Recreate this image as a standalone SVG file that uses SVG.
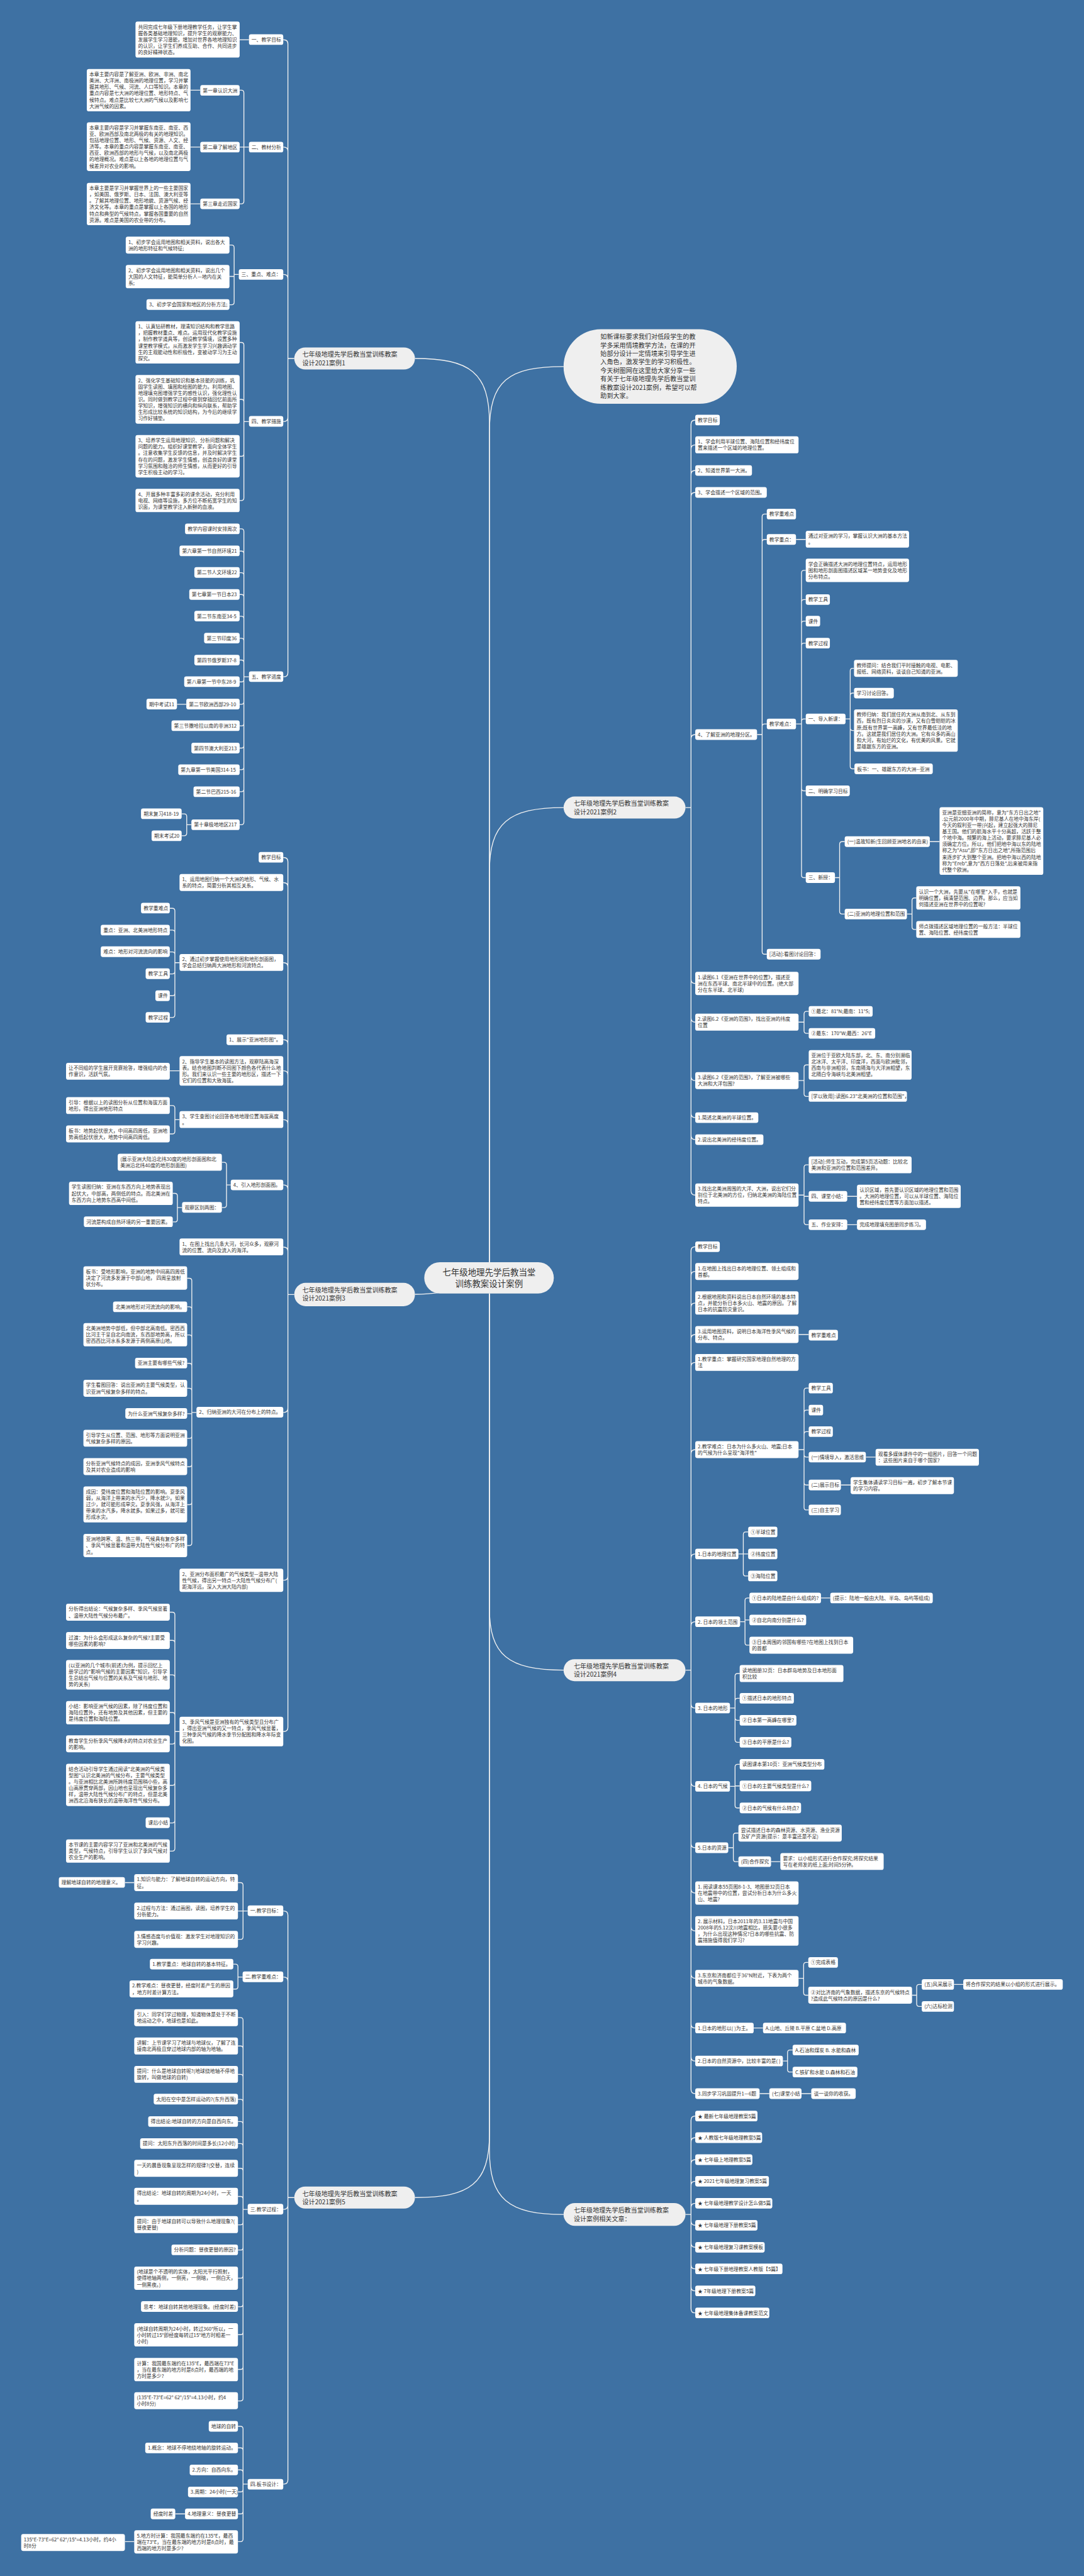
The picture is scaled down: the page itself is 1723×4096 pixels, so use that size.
<svg xmlns="http://www.w3.org/2000/svg" width="1723" height="4096" viewBox="0 0 1723 4096">
<style>
.bg{fill:#3e71a3}
.b{fill:#fff}
.g{fill:#efefef}
.t{font-family:"Noto Sans CJK SC","Noto Sans",sans-serif;font-size:11.7px;fill:#333}
.t2{font-family:"Noto Sans CJK SC","Noto Sans",sans-serif;font-size:15px;fill:#333}
.t3{font-family:"Noto Sans CJK SC","Noto Sans",sans-serif;font-size:20px;fill:#333;text-anchor:middle}
.c{fill:none;stroke:#f2f2f2;stroke-width:2}
</style>
<rect class="bg" x="0" y="0" width="1723" height="4096"/>
<g transform="scale(0.673)">
<g id="connectors">
<path class="c" d="M1156,2982V1000C1156,880 1110,847 980,847"/>
<path class="c" d="M1045,3053C1010,3058 1000,3058 980,3058"/>
<path class="c" d="M1156,3056V5040C1156,5160 1110,5192 980,5192"/>
<path class="c" d="M1156,2982V1020C1156,900 1200,866 1331,866"/>
<path class="c" d="M1156,2982V2060C1156,1945 1200,1908 1331,1908"/>
<path class="c" d="M1156,3056V3800C1156,3910 1200,3946 1331,3946"/>
<path class="c" d="M1156,3056V5080C1156,5195 1200,5232 1331,5232"/>
<path class="c" d="M695,847H680 M680,847V104Q680,94 670,94H669 M680,847V357.5Q680,347.5 670,347.5H669 M680,847V658.5Q680,648.5 670,648.5H669 M680,847V986Q680,996 670,996H669 M680,847V1589Q680,1599 670,1599H669"/>
<path class="c" d="M588,94H566"/>
<path class="c" d="M588,347.5H576 M576,347.5V219Q576,213 570,213H566 M576,347.5H566 M576,347.5V475.5Q576,481.5 570,481.5H566 M473,213H450 M473,347.5H450 M473,481.5H450"/>
<path class="c" d="M564,648.5H553 M553,648.5V585Q553,579 547,579H542 M553,648.5V653H542 M553,648.5V714Q553,720 547,720H542"/>
<path class="c" d="M588,996H576 M576,996V815Q576,809 570,809H566 M576,996V949.5Q576,943.5 570,943.5H566 M576,996V1072Q576,1078 570,1078H566 M576,996V1176.5Q576,1182.5 570,1182.5H566"/>
<path class="c" d="M588,1599H576 M576,1599V1255.5Q576,1249.5 570,1249.5H566 M576,1599V1308Q576,1302 570,1302H566 M576,1599V1359Q576,1353 570,1353H566 M576,1599V1410.5Q576,1404.5 570,1404.5H566 M576,1599V1462Q576,1456 570,1456H566 M576,1599V1514Q576,1508 570,1508H566 M576,1599V1565.5Q576,1559.5 570,1559.5H566 M576,1599V1605Q576,1611 570,1611H566 M576,1599V1658Q576,1664 570,1664H566 M576,1599V1709Q576,1715 570,1715H566 M576,1599V1761.5Q576,1767.5 570,1767.5H566 M576,1599V1812.5Q576,1818.5 570,1818.5H566 M576,1599V1864.5Q576,1870.5 570,1870.5H566 M576,1599V1942.5Q576,1948.5 570,1948.5H566 M440,1664H418 M452,1948.5H441 M441,1948.5V1929Q441,1923 435,1923H429 M441,1948.5V1968.5Q441,1974.5 435,1974.5H429"/>
<path class="c" d="M695,3058.5H680 M680,3058.5V2036Q680,2026 670,2026H669 M680,3058.5V2095.5Q680,2085.5 670,2085.5H669 M680,3058.5V2284.5Q680,2274.5 670,2274.5H669 M680,3058.5V2466.5Q680,2456.5 670,2456.5H669 M680,3058.5V2540Q680,2530 670,2530H669 M680,3058.5V2655.5Q680,2645.5 670,2645.5H669 M680,3058.5V2809.5Q680,2799.5 670,2799.5H669 M680,3058.5V2956.5Q680,2946.5 670,2946.5H669 M680,3058.5V3327Q680,3337 670,3337H669 M680,3058.5V3723.5Q680,3733.5 670,3733.5H669 M680,3058.5V4081Q680,4091 670,4091H669"/>
<path class="c" d="M424,2274.5H413 M413,2274.5V2152Q413,2146 407,2146H401 M413,2274.5V2203.5Q413,2197.5 407,2197.5H401 M413,2274.5V2255Q413,2249 407,2249H401 M413,2274.5V2295Q413,2301 407,2301H401 M413,2274.5V2346.5Q413,2352.5 407,2352.5H401 M413,2274.5V2398Q413,2404 407,2404H401"/>
<path class="c" d="M424,2530H401 M424,2645.5H413 M413,2645.5V2618Q413,2612 407,2612H401 M413,2645.5V2673Q413,2679 407,2679H401"/>
<path class="c" d="M545,2799.5H535 M535,2799.5V2752Q535,2746 529,2746H524 M535,2799.5V2847Q535,2853 529,2853H524 M430,2853H419 M419,2853V2825.5Q419,2819.5 413,2819.5H408 M419,2853V2881Q419,2887 413,2887H408"/>
<path class="c" d="M464,3337H453 M453,3337V3026Q453,3020 447,3020H442 M453,3337V3093.5Q453,3087.5 447,3087.5H442 M453,3337V3160Q453,3154 447,3154H442 M453,3337V3227Q453,3221 447,3221H442 M453,3337V3286Q453,3280 447,3280H442 M453,3337V3340H442 M453,3337V3392.5Q453,3398.5 447,3398.5H442 M453,3337V3459.5Q453,3465.5 447,3465.5H442 M453,3337V3549Q453,3555 447,3555H442 M453,3337V3645.5Q453,3651.5 447,3651.5H442"/>
<path class="c" d="M424,4091H413 M413,4091V3815Q413,3809 407,3809H401 M413,4091V3881.5Q413,3875.5 407,3875.5H401 M413,4091V3963Q413,3957 407,3957H401 M413,4091V4052Q413,4046 407,4046H401 M413,4091V4114.5Q413,4120.5 407,4120.5H401 M413,4091V4212Q413,4218 407,4218H401 M413,4091V4301Q413,4307 407,4307H401 M413,4091V4367.5Q413,4373.5 407,4373.5H401"/>
<path class="c" d="M695,5192H680 M680,5192V4525Q680,4515 670,4515H669 M680,5192V4681Q680,4671 670,4671H669 M680,5192V5210Q680,5220 670,5220H669 M680,5192V5859Q680,5869 670,5869H669"/>
<path class="c" d="M585,4515H562 M574,4515V4454Q574,4448 568,4448H562 M574,4515V4576Q574,4582 568,4582H562 M317,4448H295"/>
<path class="c" d="M573,4671H562 M562,4671V4646.5Q562,4640.5 556,4640.5H551 M562,4671V4693.5Q562,4699.5 556,4699.5H551"/>
<path class="c" d="M585,5220H574 M574,5220V4773Q574,4767 568,4767H562 M574,5220V4840Q574,4834 568,4834H562 M574,5220V4907Q574,4901 568,4901H562 M574,5220V4966Q574,4960 568,4960H562 M574,5220V5018.5Q574,5012.5 568,5012.5H562 M574,5220V5070.5Q574,5064.5 568,5064.5H562 M574,5220V5129Q574,5123 568,5123H562 M574,5220V5195.5Q574,5189.5 568,5189.5H562 M574,5220V5250.5Q574,5256.5 568,5256.5H562 M574,5220V5310Q574,5316 568,5316H562 M574,5220V5376.5Q574,5382.5 568,5382.5H562 M574,5220V5444Q574,5450 568,5450H562 M574,5220V5510Q574,5516 568,5516H562 M574,5220V5592Q574,5598 568,5598H562 M574,5220V5666.5Q574,5672.5 568,5672.5H562"/>
<path class="c" d="M585,5869H574 M574,5869V5738.5Q574,5732.5 568,5732.5H562 M574,5869V5789.5Q574,5783.5 568,5783.5H562 M574,5869V5841.5Q574,5835.5 568,5835.5H562 M574,5869V5881.5Q574,5887.5 568,5887.5H562 M574,5869V5933.5Q574,5939.5 568,5939.5H562 M574,5869V5999Q574,6005 568,6005H562 M437,5939.5H414 M317,6005H295"/>
<path class="c" d="M1619,1908H1632 M1632,1908V1002.5Q1632,992.5 1642,992.5 M1632,1908V1061Q1632,1051 1642,1051 M1632,1908V1121.5Q1632,1111.5 1642,1111.5 M1632,1908V1173.5Q1632,1163.5 1642,1163.5 M1632,1908V1745.5Q1632,1735.5 1642,1735.5 M1632,1908V2313.5Q1632,2323.5 1642,2323.5 M1632,1908V2405Q1632,2415 1642,2415 M1632,1908V2543Q1632,2553 1642,2553 M1632,1908V2630.5Q1632,2640.5 1642,2640.5 M1632,1908V2682.5Q1632,2692.5 1642,2692.5 M1632,1908V2813.5Q1632,2823.5 1642,2823.5"/>
<path class="c" d="M1788,1735.5H1800 M1800,1735.5V1220.5Q1800,1214.5 1806,1214.5H1811 M1800,1735.5V1280.5Q1800,1274.5 1806,1274.5H1811 M1800,1735.5V1716.5Q1800,1710.5 1806,1710.5H1811 M1800,1735.5V2248.5Q1800,2254.5 1806,2254.5H1811 M1880,1274.5H1903"/>
<path class="c" d="M1880,1710.5H1893 M1893,1710.5V1353.5Q1893,1347.5 1899,1347.5H1903 M1893,1710.5V1422.5Q1893,1416.5 1899,1416.5H1903 M1893,1710.5V1473.5Q1893,1467.5 1899,1467.5H1903 M1893,1710.5V1525.5Q1893,1519.5 1899,1519.5H1903 M1893,1710.5V1704.5Q1893,1698.5 1899,1698.5H1903 M1893,1710.5V1862.5Q1893,1868.5 1899,1868.5H1903 M1893,1710.5V2067.5Q1893,2073.5 1899,2073.5H1903"/>
<path class="c" d="M1997,1698.5H2008 M2008,1698.5V1585Q2008,1579 2014,1579H2017 M2008,1698.5V1643.5Q2008,1637.5 2014,1637.5H2017 M2008,1698.5V1720Q2008,1726 2014,1726H2017 M2008,1698.5V1810.5Q2008,1816.5 2014,1816.5H2018"/>
<path class="c" d="M1972,2073.5H1983 M1983,2073.5V1994.5Q1983,1988.5 1989,1988.5H1995 M1983,2073.5V2153.5Q1983,2159.5 1989,2159.5H1995 M2196,1988.5H2219 M2142,2159.5H2154 M2154,2159.5V2127.5Q2154,2121.5 2160,2121.5H2164 M2154,2159.5V2190Q2154,2196 2160,2196H2164"/>
<path class="c" d="M1886,2415H1899 M1899,2415V2395.5Q1899,2389.5 1905,2389.5H1910 M1899,2415V2435.5Q1899,2441.5 1905,2441.5H1910 M1886,2553H1899 M1899,2553V2522Q1899,2516 1905,2516H1910 M1899,2553V2584.5Q1899,2590.5 1905,2590.5H1910"/>
<path class="c" d="M1886,2823.5H1899 M1899,2823.5V2758Q1899,2752 1905,2752H1910 M1899,2823.5V2826.5H1910 M1899,2823.5V2887.5Q1899,2893.5 1905,2893.5H1910 M2001,2826.5H2024 M2001,2893.5H2024"/>
<path class="c" d="M1619,3946H1632 M1632,3946V2955.5Q1632,2945.5 1642,2945.5 M1632,3946V3014Q1632,3004 1642,3004 M1632,3946V3088.5Q1632,3078.5 1642,3078.5 M1632,3946V3163Q1632,3153 1642,3153 M1632,3946V3229Q1632,3219 1642,3219 M1632,3946V3435Q1632,3425 1642,3425 M1632,3946V3681.5Q1632,3671.5 1642,3671.5 M1632,3946V3841.5Q1632,3831.5 1642,3831.5 M1632,3946V4025.5Q1632,4035.5 1642,4035.5 M1632,3946V4210.5Q1632,4220.5 1642,4220.5 M1632,3946V4355.5Q1632,4365.5 1642,4365.5 M1632,3946V4462.5Q1632,4472.5 1642,4472.5 M1632,3946V4552Q1632,4562 1642,4562 M1632,3946V4664Q1632,4674 1642,4674 M1632,3946V4781.5Q1632,4791.5 1642,4791.5 M1632,3946V4859.5Q1632,4869.5 1642,4869.5 M1632,3946V4936.5Q1632,4946.5 1642,4946.5"/>
<path class="c" d="M1886,3153H1910 M1886,3425H1899 M1899,3425V3285.5Q1899,3279.5 1905,3279.5H1910 M1899,3425V3337.5Q1899,3331.5 1905,3331.5H1910 M1899,3425V3388.5Q1899,3382.5 1905,3382.5H1910 M1899,3425V3436.5Q1899,3442.5 1905,3442.5H1910 M1899,3425V3502.5Q1899,3508.5 1905,3508.5H1910 M1899,3425V3561.5Q1899,3567.5 1905,3567.5H1910 M2045,3442.5H2068 M1986,3508.5H2009"/>
<path class="c" d="M1744,3671.5H1767 M1755.5,3671.5V3625.5Q1755.5,3619.5 1761.5,3619.5H1767 M1755.5,3671.5V3717.5Q1755.5,3723.5 1761.5,3723.5H1767 M1748,3831.5H1759.5 M1759.5,3831.5V3781.5Q1759.5,3775.5 1765.5,3775.5H1770 M1759.5,3831.5V3827.5H1770 M1759.5,3831.5V3881Q1759.5,3887 1765.5,3887H1770 M1939,3775.5H1961"/>
<path class="c" d="M1724,4035.5H1736 M1736,4035.5V3960Q1736,3954 1742,3954H1747 M1736,4035.5V4018.5Q1736,4012.5 1742,4012.5H1747 M1736,4035.5V4058.5Q1736,4064.5 1742,4064.5H1747 M1736,4035.5V4110.5Q1736,4116.5 1742,4116.5H1747 M1724,4220.5H1736 M1736,4220.5V4174.5Q1736,4168.5 1742,4168.5H1747 M1736,4220.5V4219.5H1747 M1736,4220.5V4265.5Q1736,4271.5 1742,4271.5H1747"/>
<path class="c" d="M1720,4365.5H1732 M1732,4365.5V4337Q1732,4331 1738,4331H1744 M1732,4365.5V4392.5Q1732,4398.5 1738,4398.5H1744 M1821,4398.5H1843"/>
<path class="c" d="M1886,4674H1898 M1898,4674V4642.5Q1898,4636.5 1904,4636.5H1909 M1898,4674V4708Q1898,4714 1904,4714H1909 M2154,4714H2165 M2165,4714V4694.5Q2165,4688.5 2171,4688.5H2177 M2165,4714V4734.5Q2165,4740.5 2171,4740.5H2177 M2253,4688.5H2275"/>
<path class="c" d="M1780,4791.5H1802 M1849,4869.5H1860 M1860,4869.5V4849.5Q1860,4843.5 1866,4843.5H1872 M1860,4869.5V4889.5Q1860,4895.5 1866,4895.5H1872 M1794,4946.5H1817 M1893,4946.5H1916"/>
<path class="c" d="M1619,5232H1632 M1632,5232V5009.5Q1632,4999.5 1642,4999.5 M1632,5232V5060.5Q1632,5050.5 1642,5050.5 M1632,5232V5112.5Q1632,5102.5 1642,5102.5 M1632,5232V5163.5Q1632,5153.5 1642,5153.5 M1632,5232V5215.5Q1632,5205.5 1642,5205.5 M1632,5232V5247.5Q1632,5257.5 1642,5257.5 M1632,5232V5299.5Q1632,5309.5 1642,5309.5 M1632,5232V5350.5Q1632,5360.5 1642,5360.5 M1632,5232V5402.5Q1632,5412.5 1642,5412.5 M1632,5232V5454.5Q1632,5464.5 1642,5464.5"/>
</g>

<g id="center"><rect class="g" x="1002" y="2982" width="306" height="74" rx="37"/><text class="t3" x="1155" y="3013">七年级地理先学后教当堂<tspan x="1155" dy="27">训练教案设计案例</tspan></text></g>

<g id="intro"><rect class="g" x="1331" y="778" width="409" height="176" rx="88"/><text class="t2" x="1418" y="801">如新课标要求我们对低段学生的教<tspan x="1418" dy="20">学多采用情境教学方法，在课的开</tspan><tspan x="1418" dy="20">始部分设计一定情境来引导学生进</tspan><tspan x="1418" dy="20">入角色，激发学生的学习积极性。</tspan><tspan x="1418" dy="20">今天树图网在这里给大家分享一些</tspan><tspan x="1418" dy="20">有关于七年级地理先学后教当堂训</tspan><tspan x="1418" dy="20">练教案设计2021案例，希望可以帮</tspan><tspan x="1418" dy="20">助到大家。</tspan></text></g>

<g id="case1"><rect class="g" x="695" y="821" width="285" height="52" rx="26"/><text class="t2" x="714" y="843">七年级地理先学后教当堂训练教案<tspan x="714" dy="20">设计2021案例1</tspan></text></g>
<g id="case3"><rect class="g" x="695" y="3031" width="285" height="55" rx="27"/><text class="t2" x="714" y="3053">七年级地理先学后教当堂训练教案<tspan x="714" dy="20">设计2021案例3</tspan></text></g>
<g id="case5"><rect class="g" x="695" y="5166" width="285" height="52" rx="26"/><text class="t2" x="714" y="5188">七年级地理先学后教当堂训练教案<tspan x="714" dy="20">设计2021案例5</tspan></text></g>
<g id="case2"><rect class="g" x="1331" y="1882" width="288" height="52" rx="26"/><text class="t2" x="1355" y="1904">七年级地理先学后教当堂训练教案<tspan x="1355" dy="20">设计2021案例2</tspan></text></g>
<g id="case4"><rect class="g" x="1331" y="3920" width="288" height="52" rx="26"/><text class="t2" x="1355" y="3942">七年级地理先学后教当堂训练教案<tspan x="1355" dy="20">设计2021案例4</tspan></text></g>
<g id="related"><rect class="g" x="1331" y="5205" width="288" height="54" rx="27"/><text class="t2" x="1355" y="5228">七年级地理先学后教当堂训练教案<tspan x="1355" dy="20">设计案例相关文章：</tspan></text></g>

<g id="a1"><rect class="b" x="588" y="81" width="81" height="25" rx="5"/><text class="t" x="594" y="98">一、教学目标</text></g>
<g id="a1c"><rect class="b" x="320" y="51" width="246" height="85" rx="5"/><text class="t" x="326" y="68">共同完成七年级下册地理教学任务，让学生掌<tspan x="326" dy="15">握各类基础地理知识，提升学生的观察能力、</tspan><tspan x="326" dy="15">发展学生学习潜能，增加对世界各地地理知识</tspan><tspan x="326" dy="15">的认识，让学生们养成互助、合作、共同进步</tspan><tspan x="326" dy="15">的良好精神状态。</tspan></text></g>
<g id="a2"><rect class="b" x="588" y="335" width="81" height="25" rx="5"/><text class="t" x="594" y="352">二、教材分析</text></g>
<g id="a2a"><rect class="b" x="473" y="201" width="93" height="25" rx="5"/><text class="t" x="479" y="218">第一章认识大洲</text></g>
<g id="a2ac"><rect class="b" x="205" y="163" width="245" height="100" rx="5"/><text class="t" x="211" y="180">本章主要内容是了解亚洲、欧洲、非洲、南北<tspan x="211" dy="15">美洲、大洋洲、南极洲的地理位置，学习并掌</tspan><tspan x="211" dy="15">握其地形、气候、河流、人口等知识。本章的</tspan><tspan x="211" dy="15">重点内容是七大洲的地理位置、地形特点、气</tspan><tspan x="211" dy="15">候特点。难点是比较七大洲的气候以及影响七</tspan><tspan x="211" dy="15">大洲气候的因素。</tspan></text></g>
<g id="a2b"><rect class="b" x="473" y="335" width="93" height="25" rx="5"/><text class="t" x="479" y="352">第二章了解地区</text></g>
<g id="a2bc"><rect class="b" x="205" y="289" width="245" height="115" rx="5"/><text class="t" x="211" y="306">本章主要内容是学习并掌握东南亚、南亚、西<tspan x="211" dy="15">亚、欧洲西部及南北两极的有关的地理知识。</tspan><tspan x="211" dy="15">包括地理位置、地形、气候、资源、人文、经</tspan><tspan x="211" dy="15">济等。本章的重点内容是掌握东南亚、南亚、</tspan><tspan x="211" dy="15">西亚、欧洲西部的地形与气候，以及南北两极</tspan><tspan x="211" dy="15">的地理概况。难点是以上各地的地理位置与气</tspan><tspan x="211" dy="15">候差异对农业的影响。</tspan></text></g>
<g id="a2c"><rect class="b" x="473" y="469" width="93" height="25" rx="5"/><text class="t" x="479" y="486">第三章走近国家</text></g>
<g id="a2cc"><rect class="b" x="205" y="432" width="245" height="100" rx="5"/><text class="t" x="211" y="449">本章主要是学习并掌握世界上的一些主要国家<tspan x="211" dy="15">，如美国、俄罗斯、日本、法国、澳大利亚等</tspan><tspan x="211" dy="15">。了解其地理位置、地形地貌、资源气候、经</tspan><tspan x="211" dy="15">济文化等。本章的重点是掌握以上各国的地形</tspan><tspan x="211" dy="15">特点和典型的气候特点，掌握各国重要的自然</tspan><tspan x="211" dy="15">资源。难点是美国的农业带的分布。</tspan></text></g>
<g id="a3"><rect class="b" x="564" y="636" width="105" height="25" rx="5"/><text class="t" x="570" y="653">三、重点、难点：</text></g>
<g id="a3a"><rect class="b" x="297" y="559" width="245" height="40" rx="5"/><text class="t" x="303" y="576">1、初步学会运用地图和相关资料，说出各大<tspan x="303" dy="15">洲的地形特征和气候特征;</tspan></text></g>
<g id="a3b"><rect class="b" x="297" y="626" width="245" height="55" rx="5"/><text class="t" x="303" y="643">2、初步学会运用地图和相关资料，说出几个<tspan x="303" dy="15">大国的人文特征，能简单分析人—地内在关</tspan><tspan x="303" dy="15">系;</tspan></text></g>
<g id="a3c"><rect class="b" x="346" y="707" width="196" height="25" rx="5"/><text class="t" x="352" y="724">3、初步学会国家和地区的分析方法;</text></g>
<g id="a4"><rect class="b" x="588" y="983" width="81" height="25" rx="5"/><text class="t" x="594" y="1000">四、教学措施</text></g>
<g id="a4a"><rect class="b" x="320" y="759" width="246" height="100" rx="5"/><text class="t" x="326" y="776">1、认真钻研教材，理清知识结构和教学思路<tspan x="326" dy="15">，把握教材重点、难点。运用现代化教学设施</tspan><tspan x="326" dy="15">，制作教学道具等，创设教学情境，设置多种</tspan><tspan x="326" dy="15">课堂教学模式，从而激发学生学习兴趣调动学</tspan><tspan x="326" dy="15">生的主观能动性和积极性，变被动学习为主动</tspan><tspan x="326" dy="15">探究。</tspan></text></g>
<g id="a4b"><rect class="b" x="320" y="886" width="246" height="115" rx="5"/><text class="t" x="326" y="903">2、强化学生基础知识和基本技能的训练，巩<tspan x="326" dy="15">固学生读图、填图和绘图的能力。利用地图、</tspan><tspan x="326" dy="15">地理填充图增强学生的感性认识，强化理性认</tspan><tspan x="326" dy="15">识。同时做到教学过程中做到穿插回忆前面所</tspan><tspan x="326" dy="15">学知识，增强知识的横向和纵向联系，帮助学</tspan><tspan x="326" dy="15">生形成比较系统的知识结构，为今后的继续学</tspan><tspan x="326" dy="15">习作好铺垫。</tspan></text></g>
<g id="a4c"><rect class="b" x="320" y="1028" width="246" height="100" rx="5"/><text class="t" x="326" y="1045">3、培养学生运用地理知识、分析问题和解决<tspan x="326" dy="15">问题的能力。组织好课堂教学，面向全体学生</tspan><tspan x="326" dy="15">。注意收集学生反馈的信息，并及时解决学生</tspan><tspan x="326" dy="15">存在的问题，激发学生情感，创造良好的课堂</tspan><tspan x="326" dy="15">学习氛围和融洽的师生情感，从而更好的引导</tspan><tspan x="326" dy="15">学生积极主动的学习。</tspan></text></g>
<g id="a4d"><rect class="b" x="320" y="1155" width="246" height="55" rx="5"/><text class="t" x="326" y="1172">4、开展多种丰富多彩的课余活动，充分利用<tspan x="326" dy="15">电视、网络等设施，多方位不断拓宽学生的知</tspan><tspan x="326" dy="15">识面，为课堂教学注入新鲜的血液。</tspan></text></g>
<g id="a5"><rect class="b" x="588" y="1586" width="81" height="25" rx="5"/><text class="t" x="594" y="1603">五、教学进度</text></g>
<g id="a5a"><rect class="b" x="437" y="1237" width="129" height="25" rx="5"/><text class="t" x="443" y="1254">教学内容课时安排周次</text></g>
<g id="a5b"><rect class="b" x="424" y="1289" width="142" height="25" rx="5"/><text class="t" x="430" y="1306">第六章第一节自然环境21</text></g>
<g id="a5c"><rect class="b" x="459" y="1340" width="107" height="25" rx="5"/><text class="t" x="465" y="1357">第二节人文环境22</text></g>
<g id="a5d"><rect class="b" x="447" y="1392" width="119" height="25" rx="5"/><text class="t" x="453" y="1409">第七章第一节日本23</text></g>
<g id="a5e"><rect class="b" x="459" y="1443" width="107" height="25" rx="5"/><text class="t" x="465" y="1460">第二节东南亚34-5</text></g>
<g id="a5f"><rect class="b" x="482" y="1495" width="84" height="25" rx="5"/><text class="t" x="488" y="1512">第三节印度36</text></g>
<g id="a5g"><rect class="b" x="459" y="1547" width="107" height="25" rx="5"/><text class="t" x="465" y="1564">第四节俄罗斯37-8</text></g>
<g id="a5h"><rect class="b" x="435" y="1598" width="131" height="25" rx="5"/><text class="t" x="441" y="1615">第八章第一节中东28-9</text></g>
<g id="a5i"><rect class="b" x="440" y="1651" width="126" height="25" rx="5"/><text class="t" x="446" y="1668">第二节欧洲西部29-10</text></g>
<g id="a5i1"><rect class="b" x="346" y="1651" width="72" height="25" rx="5"/><text class="t" x="352" y="1668">期中考试11</text></g>
<g id="a5j"><rect class="b" x="405" y="1702" width="161" height="25" rx="5"/><text class="t" x="411" y="1719">第三节撒哈拉以南的非洲312</text></g>
<g id="a5k"><rect class="b" x="452" y="1755" width="114" height="25" rx="5"/><text class="t" x="458" y="1772">第四节澳大利亚213</text></g>
<g id="a5l"><rect class="b" x="421" y="1806" width="145" height="25" rx="5"/><text class="t" x="427" y="1823">第九章第一节美国314-15</text></g>
<g id="a5m"><rect class="b" x="457" y="1858" width="109" height="25" rx="5"/><text class="t" x="463" y="1875">第二节巴西215-16</text></g>
<g id="a5n"><rect class="b" x="452" y="1936" width="114" height="25" rx="5"/><text class="t" x="458" y="1953">第十章极地地区217</text></g>
<g id="a5n1"><rect class="b" x="333" y="1910" width="96" height="25" rx="5"/><text class="t" x="339" y="1927">期末复习418-19</text></g>
<g id="a5n2"><rect class="b" x="358" y="1962" width="71" height="25" rx="5"/><text class="t" x="364" y="1979">期末考试20</text></g>

<g id="b1"><rect class="b" x="611" y="2013" width="58" height="25" rx="5"/><text class="t" x="617" y="2030">教学目标</text></g>
<g id="b2"><rect class="b" x="424" y="2065" width="245" height="40" rx="5"/><text class="t" x="430" y="2082">1、运用地图归纳一个大洲的地形、气候、水<tspan x="430" dy="15">系的特点，简要分析其相互关系。</tspan></text></g>
<g id="b3"><rect class="b" x="424" y="2254" width="245" height="40" rx="5"/><text class="t" x="430" y="2271">2、通过初步掌握使用地形图和地形剖面图，<tspan x="430" dy="15">学会总结归纳两大洲地形和河流特点。</tspan></text></g>
<g id="b3a"><rect class="b" x="333" y="2133" width="68" height="25" rx="5"/><text class="t" x="339" y="2150">教学重难点</text></g>
<g id="b3b"><rect class="b" x="238" y="2185" width="163" height="25" rx="5"/><text class="t" x="244" y="2202">重点：亚洲、北美洲地形特点</text></g>
<g id="b3c"><rect class="b" x="238" y="2236" width="163" height="25" rx="5"/><text class="t" x="244" y="2253">难点：地形对河流流向的影响</text></g>
<g id="b3d"><rect class="b" x="344" y="2288" width="57" height="25" rx="5"/><text class="t" x="350" y="2305">教学工具</text></g>
<g id="b3e"><rect class="b" x="367" y="2340" width="34" height="25" rx="5"/><text class="t" x="373" y="2357">课件</text></g>
<g id="b3f"><rect class="b" x="344" y="2391" width="57" height="25" rx="5"/><text class="t" x="350" y="2408">教学过程</text></g>
<g id="b4"><rect class="b" x="535" y="2444" width="134" height="25" rx="5"/><text class="t" x="541" y="2461">1、展示"亚洲地形图"。</text></g>
<g id="b5"><rect class="b" x="424" y="2495" width="245" height="70" rx="5"/><text class="t" x="430" y="2512">2、指导学生基本的读图方法，观察陆高海深<tspan x="430" dy="15">表。结合地图判断不同图下颜色各代表什么地</tspan><tspan x="430" dy="15">形。我们来认识一些主要的地形区，描述一下</tspan><tspan x="430" dy="15">它们的位置和大致海拔。</tspan></text></g>
<g id="b5a"><rect class="b" x="156" y="2511" width="245" height="40" rx="5"/><text class="t" x="162" y="2528">让不同组的学生展开竞赛抢答，增强组内的合<tspan x="162" dy="15">作意识，活跃气氛。</tspan></text></g>
<g id="b6"><rect class="b" x="424" y="2625" width="245" height="40" rx="5"/><text class="t" x="430" y="2642">3、学生查图讨论回答各地地理位置海拔高度<tspan x="430" dy="15">。</tspan></text></g>
<g id="b6a"><rect class="b" x="156" y="2592" width="245" height="40" rx="5"/><text class="t" x="162" y="2609">引导：根据以上的读图分析从位置和海拔方面<tspan x="162" dy="15">地形，得出亚洲地形特点</tspan></text></g>
<g id="b6b"><rect class="b" x="156" y="2659" width="245" height="40" rx="5"/><text class="t" x="162" y="2676">板书：地势起伏很大，中间高四周低，亚洲地<tspan x="162" dy="15">势高低起伏很大，地势中间高四周低。</tspan></text></g>
<g id="b7"><rect class="b" x="545" y="2787" width="124" height="25" rx="5"/><text class="t" x="551" y="2804">4、引入地形剖面图。</text></g>
<g id="b7a"><rect class="b" x="278" y="2726" width="246" height="40" rx="5"/><text class="t" x="284" y="2743">(展示亚洲大陆沿北纬30度的地形剖面图和北<tspan x="284" dy="15">美洲沿北纬40度的地形剖面图)</tspan></text></g>
<g id="b7b"><rect class="b" x="430" y="2840" width="94" height="25" rx="5"/><text class="t" x="436" y="2857">观察区别两图：</text></g>
<g id="b7b1"><rect class="b" x="163" y="2792" width="245" height="55" rx="5"/><text class="t" x="169" y="2809">学生读图归纳：亚洲在东西方向上地势表现出<tspan x="169" dy="15">起伏大，中部高，两侧低的特点。而北美洲在</tspan><tspan x="169" dy="15">东西方向上地势东西高中间低。</tspan></text></g>
<g id="b7b2"><rect class="b" x="198" y="2874" width="210" height="25" rx="5"/><text class="t" x="204" y="2891">河流是构成自热环境的另一重要因素。</text></g>
<g id="b8"><rect class="b" x="424" y="2926" width="245" height="40" rx="5"/><text class="t" x="430" y="2943">1、在图上找出几条大河，长河众多，观察河<tspan x="430" dy="15">流的位置、流向及流入的海洋。</tspan></text></g>
<g id="b9"><rect class="b" x="464" y="3324" width="205" height="25" rx="5"/><text class="t" x="470" y="3341">2、归纳亚洲的大河在分布上的特点。</text></g>
<g id="b9a"><rect class="b" x="197" y="2992" width="245" height="55" rx="5"/><text class="t" x="203" y="3009">板书：受地形影响，亚洲的地势中间高四周低<tspan x="203" dy="15">决定了河流多发源于中部山地， 四周呈放射</tspan><tspan x="203" dy="15">状分布。</tspan></text></g>
<g id="b9b"><rect class="b" x="267" y="3075" width="175" height="25" rx="5"/><text class="t" x="273" y="3092">北美洲地形对河流流向的影响。</text></g>
<g id="b9c"><rect class="b" x="197" y="3126" width="245" height="55" rx="5"/><text class="t" x="203" y="3143">北美洲地势中部低，但中部北高南低。密西西<tspan x="203" dy="15">比河主干呈自北向南流，东西部地势高，所以</tspan><tspan x="203" dy="15">密西西比河水系多发源于两侧高原山地。</tspan></text></g>
<g id="b9d"><rect class="b" x="319" y="3208" width="123" height="25" rx="5"/><text class="t" x="325" y="3225">亚洲主要有哪些气候?</text></g>
<g id="b9e"><rect class="b" x="197" y="3260" width="245" height="40" rx="5"/><text class="t" x="203" y="3277">学生看图回答：说出亚洲的主要气候类型，认<tspan x="203" dy="15">识亚洲气候复杂多样的特点。</tspan></text></g>
<g id="b9f"><rect class="b" x="296" y="3327" width="146" height="25" rx="5"/><text class="t" x="302" y="3344">为什么亚洲气候复杂多样?</text></g>
<g id="b9g"><rect class="b" x="197" y="3378" width="245" height="40" rx="5"/><text class="t" x="203" y="3395">引导学生从位置、范围、地形等方面说明亚洲<tspan x="203" dy="15">气候复杂多样的原因。</tspan></text></g>
<g id="b9h"><rect class="b" x="197" y="3445" width="245" height="40" rx="5"/><text class="t" x="203" y="3462">分析亚洲气候特点的成因，亚洲季风气候特点<tspan x="203" dy="15">及其对农业造成的影响</tspan></text></g>
<g id="b9i"><rect class="b" x="197" y="3512" width="245" height="85" rx="5"/><text class="t" x="203" y="3529">成因：受纬度位置和海陆位置的影响。夏季风<tspan x="203" dy="15">弱，从海洋上带来的水汽少，降水就少。如果</tspan><tspan x="203" dy="15">过少，就可能形成旱灾。夏季风强，从海洋上</tspan><tspan x="203" dy="15">带来的水汽多，降水就多。如果过多，就可能</tspan><tspan x="203" dy="15">形成水灾。</tspan></text></g>
<g id="b9j"><rect class="b" x="197" y="3624" width="245" height="55" rx="5"/><text class="t" x="203" y="3641">亚洲地跨寒、温、热三带，气候具有复杂多样<tspan x="203" dy="15">、季风气候显著和温带大陆性气候分布广的特</tspan><tspan x="203" dy="15">点。</tspan></text></g>
<g id="b10"><rect class="b" x="424" y="3706" width="245" height="55" rx="5"/><text class="t" x="430" y="3723">2、亚洲分布面积最广的气候类型—温带大陆<tspan x="430" dy="15">性气候，得出另一特点—大陆性气候分布广(</tspan><tspan x="430" dy="15">距海洋远，深入大洲大陆内部)</tspan></text></g>
<g id="b11"><rect class="b" x="424" y="4056" width="245" height="70" rx="5"/><text class="t" x="430" y="4073">3、季风气候是亚洲独有的气候类型且分布广<tspan x="430" dy="15">，得出亚洲气候的又一特点，季风气候显著，</tspan><tspan x="430" dy="15">三种季风气候的降水季节分配图和降水年际变</tspan><tspan x="430" dy="15">化图。</tspan></text></g>
<g id="b11a"><rect class="b" x="156" y="3789" width="245" height="40" rx="5"/><text class="t" x="162" y="3806">分析得出结论：气候复杂多样、季风气候显著<tspan x="162" dy="15">、温带大陆性气候分布最广。</tspan></text></g>
<g id="b11b"><rect class="b" x="156" y="3856" width="245" height="40" rx="5"/><text class="t" x="162" y="3873">过渡：为什么会形成这么复杂的气候?主要受<tspan x="162" dy="15">哪些因素的影响?</tspan></text></g>
<g id="b11c"><rect class="b" x="156" y="3922" width="245" height="70" rx="5"/><text class="t" x="162" y="3939">(以亚洲的几个城市(前述)为例，提示回忆上<tspan x="162" dy="15">册学过的"影响气候的主要因素"知识，引导学</tspan><tspan x="162" dy="15">生总结出气候与位置的关系及气候与地形、地</tspan><tspan x="162" dy="15">势的关系)</tspan></text></g>
<g id="b11d"><rect class="b" x="156" y="4019" width="245" height="55" rx="5"/><text class="t" x="162" y="4036">小结：影响亚洲气候的因素，除了纬度位置和<tspan x="162" dy="15">海陆位置外，还有地势及其他因素，但主要的</tspan><tspan x="162" dy="15">是纬度位置和海陆位置。</tspan></text></g>
<g id="b11e"><rect class="b" x="156" y="4100" width="245" height="40" rx="5"/><text class="t" x="162" y="4117">教育学生分析季风气候降水的特点对农业生产<tspan x="162" dy="15">的影响。</tspan></text></g>
<g id="b11f"><rect class="b" x="156" y="4167" width="245" height="100" rx="5"/><text class="t" x="162" y="4184">结合活动引导学生通过阅读"北美洲的气候类<tspan x="162" dy="15">型图"认识北美洲的气候分布，主要气候类型</tspan><tspan x="162" dy="15">。与亚洲相比北美洲所跨纬度范围稍小些，高</tspan><tspan x="162" dy="15">山高原贯穿两部，因山地也呈现出气候复杂多</tspan><tspan x="162" dy="15">样，温带大陆性气候分布广的特点，但是北美</tspan><tspan x="162" dy="15">洲西北沿海有狭长的温带海洋性气候分布。</tspan></text></g>
<g id="b11g"><rect class="b" x="344" y="4294" width="57" height="25" rx="5"/><text class="t" x="350" y="4311">课后小结</text></g>
<g id="b11h"><rect class="b" x="156" y="4346" width="245" height="55" rx="5"/><text class="t" x="162" y="4363">本节课的主要内容学习了亚洲和北美洲的气候<tspan x="162" dy="15">类型，气候特点，引导学生认识了季风气候对</tspan><tspan x="162" dy="15">农业生产的影响。</tspan></text></g>

<g id="c1"><rect class="b" x="585" y="4502" width="84" height="25" rx="5"/><text class="t" x="591" y="4519">一.教学目标：</text></g>
<g id="c1a"><rect class="b" x="317" y="4428" width="245" height="40" rx="5"/><text class="t" x="323" y="4445">1.知识与能力：了解地球自转的运动方向，特<tspan x="323" dy="15">征。</tspan></text></g>
<g id="c1a1"><rect class="b" x="139" y="4435" width="156" height="25" rx="5"/><text class="t" x="145" y="4452">理解地球自转的地理意义。</text></g>
<g id="c1b"><rect class="b" x="317" y="4495" width="245" height="40" rx="5"/><text class="t" x="323" y="4512">2.过程与方法：通过画图，读图，培养学生的<tspan x="323" dy="15">分析能力。</tspan></text></g>
<g id="c1c"><rect class="b" x="317" y="4562" width="245" height="40" rx="5"/><text class="t" x="323" y="4579">3.情感态度与价值观：激发学生对地理知识的<tspan x="323" dy="15">学习兴趣。</tspan></text></g>
<g id="c2"><rect class="b" x="573" y="4658" width="96" height="25" rx="5"/><text class="t" x="579" y="4675">二.教学重难点：</text></g>
<g id="c2a"><rect class="b" x="354" y="4628" width="197" height="25" rx="5"/><text class="t" x="360" y="4645">1.教学重点：地球自转的基本特征。</text></g>
<g id="c2b"><rect class="b" x="306" y="4679" width="245" height="40" rx="5"/><text class="t" x="312" y="4696">2.教学难点：昼夜更替，经度时差产生的原因<tspan x="312" dy="15">，地方时差计算方法。</tspan></text></g>
<g id="c3"><rect class="b" x="585" y="5207" width="84" height="25" rx="5"/><text class="t" x="591" y="5224">三.教学过程：</text></g>
<g id="c3a"><rect class="b" x="317" y="4747" width="245" height="40" rx="5"/><text class="t" x="323" y="4764">引入：同学们学过物理，知道物体是处于不断<tspan x="323" dy="15">地运动之中，地球也是如此。</tspan></text></g>
<g id="c3b"><rect class="b" x="317" y="4814" width="245" height="40" rx="5"/><text class="t" x="323" y="4831">讲解：上节课学习了地球与地球仪，了解了连<tspan x="323" dy="15">接南北两极且穿过地球内部的轴为地轴。</tspan></text></g>
<g id="c3c"><rect class="b" x="317" y="4881" width="245" height="40" rx="5"/><text class="t" x="323" y="4898">提问：什么是地球自转呢?(地球绕地轴不停地<tspan x="323" dy="15">旋转，叫做地球的自转)</tspan></text></g>
<g id="c3d"><rect class="b" x="363" y="4947" width="199" height="25" rx="5"/><text class="t" x="369" y="4964">太阳在空中是怎样运动的?(东升西落)</text></g>
<g id="c3e"><rect class="b" x="350" y="5000" width="212" height="25" rx="5"/><text class="t" x="356" y="5017">得出结论:地球自转的方向是自西向东。</text></g>
<g id="c3f"><rect class="b" x="331" y="5052" width="231" height="25" rx="5"/><text class="t" x="337" y="5069">提问：太阳东升西落的时间是多长(12小时)</text></g>
<g id="c3g"><rect class="b" x="317" y="5103" width="245" height="40" rx="5"/><text class="t" x="323" y="5120">一天的晨昏现象呈现怎样的规律?(交替，连续<tspan x="323" dy="15">)</tspan></text></g>
<g id="c3h"><rect class="b" x="317" y="5169" width="245" height="40" rx="5"/><text class="t" x="323" y="5186">得出结论：地球自转的周期为24小时，一天<tspan x="323" dy="15">。</tspan></text></g>
<g id="c3i"><rect class="b" x="317" y="5236" width="245" height="40" rx="5"/><text class="t" x="323" y="5253">提问：由于地球自转可以导致什么地理现象?(<tspan x="323" dy="15">昼夜更替)</tspan></text></g>
<g id="c3j"><rect class="b" x="405" y="5303" width="157" height="25" rx="5"/><text class="t" x="411" y="5320">分析问题：昼夜更替的原因?</text></g>
<g id="c3k"><rect class="b" x="317" y="5355" width="245" height="55" rx="5"/><text class="t" x="323" y="5372">(地球是个不透明的实体，太阳光平行照射，<tspan x="323" dy="15">使得地轴两侧，一侧亮，一侧暗，一侧白天，</tspan><tspan x="323" dy="15">一侧黑夜。)</tspan></text></g>
<g id="c3l"><rect class="b" x="333" y="5437" width="229" height="25" rx="5"/><text class="t" x="339" y="5454">思考：地球自转其他地理现象。(经度时差)</text></g>
<g id="c3m"><rect class="b" x="317" y="5489" width="245" height="55" rx="5"/><text class="t" x="323" y="5506">(地球自转周期为24小时，转过360°所以，一<tspan x="323" dy="15">小时转过15°即经度每转过15°地方时相差一</tspan><tspan x="323" dy="15">小时)</tspan></text></g>
<g id="c3n"><rect class="b" x="317" y="5571" width="245" height="55" rx="5"/><text class="t" x="323" y="5588">计算：我国最东端约在135°E，最西端在73°E<tspan x="323" dy="15">，当在最东端的地方时是8点时，最西端的地</tspan><tspan x="323" dy="15">方时是多少?</tspan></text></g>
<g id="c3o"><rect class="b" x="317" y="5652" width="245" height="40" rx="5"/><text class="t" x="323" y="5669">(135°E-73°E=62° 62°/15°=4.13小时，约4<tspan x="323" dy="15">小时8分)</tspan></text></g>
<g id="c4"><rect class="b" x="585" y="5857" width="84" height="25" rx="5"/><text class="t" x="591" y="5874">四.板书设计：</text></g>
<g id="c4a"><rect class="b" x="493" y="5720" width="69" height="25" rx="5"/><text class="t" x="499" y="5737">地球的自转</text></g>
<g id="c4b"><rect class="b" x="343" y="5771" width="219" height="25" rx="5"/><text class="t" x="349" y="5788">1.概念：地球不停地绕地轴的旋转运动。</text></g>
<g id="c4c"><rect class="b" x="448" y="5823" width="114" height="25" rx="5"/><text class="t" x="454" y="5840">2.方向：自西向东。</text></g>
<g id="c4d"><rect class="b" x="444" y="5875" width="118" height="25" rx="5"/><text class="t" x="450" y="5892">3.周期：24小时(一天)</text></g>
<g id="c4e"><rect class="b" x="437" y="5927" width="125" height="25" rx="5"/><text class="t" x="443" y="5944">4.地理意义：昼夜更替</text></g>
<g id="c4e1"><rect class="b" x="356" y="5927" width="58" height="25" rx="5"/><text class="t" x="362" y="5944">经度时差</text></g>
<g id="c4f"><rect class="b" x="317" y="5978" width="245" height="55" rx="5"/><text class="t" x="323" y="5995">5.地方时计算：我国最东端约在135°E，最西<tspan x="323" dy="15">端在73°E，当在最东端的地方时是8点时，最</tspan><tspan x="323" dy="15">西端的地方时是多少?</tspan></text></g>
<g id="c4f1"><rect class="b" x="50" y="5987" width="245" height="40" rx="5"/><text class="t" x="56" y="6004">135°E-73°E=62° 62°/15°=4.13小时，约4小<tspan x="56" dy="15">时8分</tspan></text></g>

<g id="d1"><rect class="b" x="1642" y="980" width="58" height="25" rx="5"/><text class="t" x="1648" y="997">教学目标</text></g>
<g id="d2"><rect class="b" x="1642" y="1031" width="244" height="40" rx="5"/><text class="t" x="1648" y="1048">1、学会利用半球位置、海陆位置和经纬度位<tspan x="1648" dy="15">置来描述一个区域的地理位置。</tspan></text></g>
<g id="d3"><rect class="b" x="1642" y="1099" width="134" height="25" rx="5"/><text class="t" x="1648" y="1116">2、知道世界第一大洲。</text></g>
<g id="d4"><rect class="b" x="1642" y="1151" width="169" height="25" rx="5"/><text class="t" x="1648" y="1168">3、学会描述一个区域的范围。</text></g>
<g id="d5"><rect class="b" x="1642" y="1723" width="146" height="25" rx="5"/><text class="t" x="1648" y="1740">4、了解亚洲的地理分区。</text></g>
<g id="d5a"><rect class="b" x="1811" y="1202" width="69" height="25" rx="5"/><text class="t" x="1817" y="1219">教学重难点</text></g>
<g id="d5b"><rect class="b" x="1811" y="1262" width="69" height="25" rx="5"/><text class="t" x="1817" y="1279">教学重点：</text></g>
<g id="d5b1"><rect class="b" x="1903" y="1254" width="244" height="40" rx="5"/><text class="t" x="1909" y="1271">通过对亚洲的学习，掌握认识大洲的基本方法<tspan x="1909" dy="15">。</tspan></text></g>
<g id="d5c"><rect class="b" x="1811" y="1698" width="69" height="25" rx="5"/><text class="t" x="1817" y="1715">教学难点：</text></g>
<g id="d5c1"><rect class="b" x="1903" y="1320" width="244" height="55" rx="5"/><text class="t" x="1909" y="1337">学会正确描述大洲的地理位置特点，运用地形<tspan x="1909" dy="15">图和地形剖面图描述区域某一地势变化及地形</tspan><tspan x="1909" dy="15">分布特点。</tspan></text></g>
<g id="d5c2"><rect class="b" x="1903" y="1404" width="57" height="25" rx="5"/><text class="t" x="1909" y="1421">教学工具</text></g>
<g id="d5c3"><rect class="b" x="1903" y="1455" width="34" height="25" rx="5"/><text class="t" x="1909" y="1472">课件</text></g>
<g id="d5c4"><rect class="b" x="1903" y="1507" width="57" height="25" rx="5"/><text class="t" x="1909" y="1524">教学过程</text></g>
<g id="d5c5"><rect class="b" x="1903" y="1686" width="94" height="25" rx="5"/><text class="t" x="1909" y="1703">一、导入新课：</text></g>
<g id="d5c5a"><rect class="b" x="2017" y="1559" width="245" height="40" rx="5"/><text class="t" x="2023" y="1576">教师提问：结合我们平时接触的电视、电影、<tspan x="2023" dy="15">报纸、网络资料，谈谈自己知道的亚洲。</tspan></text></g>
<g id="d5c5b"><rect class="b" x="2017" y="1625" width="94" height="25" rx="5"/><text class="t" x="2023" y="1642">学习讨论回答。</text></g>
<g id="d5c5c"><rect class="b" x="2017" y="1676" width="245" height="100" rx="5"/><text class="t" x="2023" y="1693">教师归纳：我们居住的大洲从南到北、从东到<tspan x="2023" dy="15">西，既有烈日炎炎的沙漠，又有白雪皑皑的冰</tspan><tspan x="2023" dy="15">原;既有世界第一高峰，又有世界最低洼的地</tspan><tspan x="2023" dy="15">方。这就是我们居住的大洲。它有众多的高山</tspan><tspan x="2023" dy="15">和大河，有灿烂的文化，有优美的风景。它就</tspan><tspan x="2023" dy="15">是雄踞东方的亚洲。</tspan></text></g>
<g id="d5c5d"><rect class="b" x="2018" y="1804" width="185" height="25" rx="5"/><text class="t" x="2024" y="1821">板书：一、雄踞东方的大洲--亚洲</text></g>
<g id="d5c6"><rect class="b" x="1903" y="1856" width="104" height="25" rx="5"/><text class="t" x="1909" y="1873">二、明确学习目标</text></g>
<g id="d5c7"><rect class="b" x="1903" y="2061" width="69" height="25" rx="5"/><text class="t" x="1909" y="2078">三、新授：</text></g>
<g id="d5c7a"><rect class="b" x="1995" y="1976" width="201" height="25" rx="5"/><text class="t" x="2001" y="1993">(一)温故知新(生回顾亚洲地名的由来)</text></g>
<g id="d5c7a1"><rect class="b" x="2219" y="1907" width="245" height="160" rx="5"/><text class="t" x="2225" y="1924">亚洲是亚细亚洲的简称，意为"东方日出之地"<tspan x="2225" dy="15">.公元前2000年中期，腓尼基人在地中海东岸(</tspan><tspan x="2225" dy="15">今天的叙利亚一带)兴起，建立起强大的腓尼</tspan><tspan x="2225" dy="15">基王国。他们的航海水平十分高超，活跃于整</tspan><tspan x="2225" dy="15">个地中海。频繁的海上活动，要求腓尼基人必</tspan><tspan x="2225" dy="15">须确定方位。所以，他们把地中海以东的陆地</tspan><tspan x="2225" dy="15">称之为"Asu",即"东方日出之地",所指范围后</tspan><tspan x="2225" dy="15">来逐步扩大到整个亚洲。把地中海以西的陆地</tspan><tspan x="2225" dy="15">称为"Ereb",意为"西方日落处",后来被用来指</tspan><tspan x="2225" dy="15">代整个欧洲。</tspan></text></g>
<g id="d5c7b"><rect class="b" x="1995" y="2147" width="147" height="25" rx="5"/><text class="t" x="2001" y="2164">(二)亚洲的地理位置和范围</text></g>
<g id="d5c7b1"><rect class="b" x="2164" y="2094" width="246" height="55" rx="5"/><text class="t" x="2170" y="2111">认识一个大洲，先要从"在哪里"入手，也就是<tspan x="2170" dy="15">明确位置，搞清楚范围、边界。那么，应当如</tspan><tspan x="2170" dy="15">何描述亚洲在世界中的位置呢?</tspan></text></g>
<g id="d5c7b2"><rect class="b" x="2164" y="2176" width="246" height="40" rx="5"/><text class="t" x="2170" y="2193">师点拨描述区域地理位置的一般方法：半球位<tspan x="2170" dy="15">置、海陆位置、经纬度位置</tspan></text></g>
<g id="d5d"><rect class="b" x="1811" y="2242" width="127" height="25" rx="5"/><text class="t" x="1817" y="2259">[活动]:看图讨论回答：</text></g>
<g id="d6"><rect class="b" x="1642" y="2296" width="244" height="55" rx="5"/><text class="t" x="1648" y="2313">1.读图6.1《亚洲在世界中的位置》，描述亚<tspan x="1648" dy="15">洲在东西半球、南北半球中的位置。(绝大部</tspan><tspan x="1648" dy="15">分在东半球、北半球)</tspan></text></g>
<g id="d7"><rect class="b" x="1642" y="2395" width="244" height="40" rx="5"/><text class="t" x="1648" y="2412">2.读图6.2《亚洲的范围》，找出亚洲的纬度<tspan x="1648" dy="15">位置</tspan></text></g>
<g id="d7a"><rect class="b" x="1910" y="2377" width="151" height="25" rx="5"/><text class="t" x="1916" y="2394">①最北：81°N;最南：11°S;</text></g>
<g id="d7b"><rect class="b" x="1910" y="2429" width="157" height="25" rx="5"/><text class="t" x="1916" y="2446">②最东：170°W;最西：26°E</text></g>
<g id="d8"><rect class="b" x="1642" y="2533" width="244" height="40" rx="5"/><text class="t" x="1648" y="2550">3.读图6.2《亚洲的范围》，了解亚洲被哪些<tspan x="1648" dy="15">大洲和大洋包围?</tspan></text></g>
<g id="d8a"><rect class="b" x="1910" y="2481" width="243" height="70" rx="5"/><text class="t" x="1916" y="2498">亚洲位于亚欧大陆东部，北、东、南分别濒临<tspan x="1916" dy="15">北冰洋、太平洋、印度洋，西面与欧洲毗邻，</tspan><tspan x="1916" dy="15">西南与非洲相邻，东南隔海与大洋洲相望，东</tspan><tspan x="1916" dy="15">北隔白令海峡与北美洲相望。</tspan></text></g>
<g id="d8b"><rect class="b" x="1910" y="2578" width="232" height="25" rx="5"/><text class="t" x="1916" y="2595">[学以致用]:读图6.23"北美洲的位置和范围"，</text></g>
<g id="d9"><rect class="b" x="1642" y="2628" width="149" height="25" rx="5"/><text class="t" x="1648" y="2645">1.简述北美洲的半球位置。</text></g>
<g id="d10"><rect class="b" x="1642" y="2680" width="161" height="25" rx="5"/><text class="t" x="1648" y="2697">2.说出北美洲的经纬度位置。</text></g>
<g id="d11"><rect class="b" x="1642" y="2796" width="244" height="55" rx="5"/><text class="t" x="1648" y="2813">3.找出北美洲周围的大洋、大洲，说出它们分<tspan x="1648" dy="15">别位于北美洲的方位，归纳北美洲的海陆位置</tspan><tspan x="1648" dy="15">特点。</tspan></text></g>
<g id="d11a"><rect class="b" x="1910" y="2732" width="243" height="40" rx="5"/><text class="t" x="1916" y="2749">[活动]:师生互动，完成第5页活动题：比较北<tspan x="1916" dy="15">美洲和亚洲的位置和范围差异。</tspan></text></g>
<g id="d11b"><rect class="b" x="1910" y="2814" width="91" height="25" rx="5"/><text class="t" x="1916" y="2831">四、课堂小结：</text></g>
<g id="d11b1"><rect class="b" x="2024" y="2799" width="245" height="55" rx="5"/><text class="t" x="2030" y="2816">认识区域，首先要认识区域的地理位置和范围<tspan x="2030" dy="15">。大洲的地理位置，可以从半球位置、海陆位</tspan><tspan x="2030" dy="15">置和经纬度位置等方面加以描述。</tspan></text></g>
<g id="d11c"><rect class="b" x="1910" y="2881" width="91" height="25" rx="5"/><text class="t" x="1916" y="2898">五、作业安排：</text></g>
<g id="d11c1"><rect class="b" x="2024" y="2881" width="163" height="25" rx="5"/><text class="t" x="2030" y="2898">完成地理填充图册同步练习。</text></g>

<g id="e1"><rect class="b" x="1642" y="2933" width="58" height="25" rx="5"/><text class="t" x="1648" y="2950">教学目标</text></g>
<g id="e2"><rect class="b" x="1642" y="2984" width="244" height="40" rx="5"/><text class="t" x="1648" y="3001">1.在地图上找出日本的地理位置、领土组成和<tspan x="1648" dy="15">首都。</tspan></text></g>
<g id="e3"><rect class="b" x="1642" y="3051" width="244" height="55" rx="5"/><text class="t" x="1648" y="3068">2.根据地图和资料说出日本自然环境的基本特<tspan x="1648" dy="15">点，并能分析日本多火山、地震的原因。了解</tspan><tspan x="1648" dy="15">日本的抗震防灾意识。</tspan></text></g>
<g id="e4"><rect class="b" x="1642" y="3133" width="244" height="40" rx="5"/><text class="t" x="1648" y="3150">3.运用地图资料，说明日本海洋性季风气候的<tspan x="1648" dy="15">分布、特点。</tspan></text></g>
<g id="e4a"><rect class="b" x="1910" y="3142" width="69" height="25" rx="5"/><text class="t" x="1916" y="3159">教学重难点</text></g>
<g id="e5"><rect class="b" x="1642" y="3199" width="244" height="40" rx="5"/><text class="t" x="1648" y="3216">1.教学重点：掌握研究国家地理自然地理的方<tspan x="1648" dy="15">法</tspan></text></g>
<g id="e6"><rect class="b" x="1642" y="3405" width="244" height="40" rx="5"/><text class="t" x="1648" y="3422">2.教学难点：日本为什么多火山、地震;日本<tspan x="1648" dy="15">的气候为什么呈现"海洋性"</tspan></text></g>
<g id="e6a"><rect class="b" x="1910" y="3267" width="57" height="25" rx="5"/><text class="t" x="1916" y="3284">教学工具</text></g>
<g id="e6b"><rect class="b" x="1910" y="3319" width="34" height="25" rx="5"/><text class="t" x="1916" y="3336">课件</text></g>
<g id="e6c"><rect class="b" x="1910" y="3370" width="57" height="25" rx="5"/><text class="t" x="1916" y="3387">教学过程</text></g>
<g id="e6d"><rect class="b" x="1910" y="3430" width="135" height="25" rx="5"/><text class="t" x="1916" y="3447">(一)情境导入，激活思维</text></g>
<g id="e6d1"><rect class="b" x="2068" y="3423" width="244" height="40" rx="5"/><text class="t" x="2074" y="3440">观看多媒体课件中的一组图片，回答一个问题<tspan x="2074" dy="15">：这些图片来自于哪个国家?</tspan></text></g>
<g id="e6e"><rect class="b" x="1910" y="3496" width="76" height="25" rx="5"/><text class="t" x="1916" y="3513">(二)展示目标</text></g>
<g id="e6e1"><rect class="b" x="2009" y="3490" width="244" height="40" rx="5"/><text class="t" x="2015" y="3507">学生集体诵读学习目标一遍，初步了解本节课<tspan x="2015" dy="15">的学习内容。</tspan></text></g>
<g id="e6f"><rect class="b" x="1910" y="3555" width="76" height="25" rx="5"/><text class="t" x="1916" y="3572">(三)自主学习</text></g>
<g id="e7"><rect class="b" x="1642" y="3659" width="102" height="25" rx="5"/><text class="t" x="1648" y="3676">1.日本的地理位置</text></g>
<g id="e7a"><rect class="b" x="1767" y="3607" width="69" height="25" rx="5"/><text class="t" x="1773" y="3624">①半球位置</text></g>
<g id="e7b"><rect class="b" x="1767" y="3659" width="69" height="25" rx="5"/><text class="t" x="1773" y="3676">②纬度位置</text></g>
<g id="e7c"><rect class="b" x="1767" y="3711" width="69" height="25" rx="5"/><text class="t" x="1773" y="3728">③海陆位置</text></g>
<g id="e8"><rect class="b" x="1642" y="3819" width="106" height="25" rx="5"/><text class="t" x="1648" y="3836">2. 日本的领土范围</text></g>
<g id="e8a"><rect class="b" x="1770" y="3763" width="169" height="25" rx="5"/><text class="t" x="1776" y="3780">①日本的陆地是由什么组成的?</text></g>
<g id="e8a1"><rect class="b" x="1961" y="3763" width="242" height="25" rx="5"/><text class="t" x="1967" y="3780">(提示：陆地一般由大陆、半岛、岛屿等组成)</text></g>
<g id="e8b"><rect class="b" x="1770" y="3815" width="134" height="25" rx="5"/><text class="t" x="1776" y="3832">②自北向南分别是什么?</text></g>
<g id="e8c"><rect class="b" x="1770" y="3867" width="245" height="40" rx="5"/><text class="t" x="1776" y="3884">③日本周围的邻国有哪些?在地图上找到日本<tspan x="1776" dy="15">的首都</tspan></text></g>
<g id="e9"><rect class="b" x="1642" y="4023" width="82" height="25" rx="5"/><text class="t" x="1648" y="4040">3. 日本的地形</text></g>
<g id="e9a"><rect class="b" x="1747" y="3934" width="245" height="40" rx="5"/><text class="t" x="1753" y="3951">读地图册32页：日本群岛地势及日本地形面<tspan x="1753" dy="15">积比较</tspan></text></g>
<g id="e9b"><rect class="b" x="1747" y="4000" width="128" height="25" rx="5"/><text class="t" x="1753" y="4017">①描述日本的地形特点</text></g>
<g id="e9c"><rect class="b" x="1747" y="4052" width="134" height="25" rx="5"/><text class="t" x="1753" y="4069">②日本第一高峰在哪里?</text></g>
<g id="e9d"><rect class="b" x="1747" y="4104" width="122" height="25" rx="5"/><text class="t" x="1753" y="4121">③日本的平原是什么?</text></g>
<g id="e10"><rect class="b" x="1642" y="4208" width="82" height="25" rx="5"/><text class="t" x="1648" y="4225">4. 日本的气候</text></g>
<g id="e10a"><rect class="b" x="1747" y="4156" width="200" height="25" rx="5"/><text class="t" x="1753" y="4173">读图课本第10页：亚洲气候类型分布</text></g>
<g id="e10b"><rect class="b" x="1747" y="4207" width="169" height="25" rx="5"/><text class="t" x="1753" y="4224">①日本的主要气候类型是什么?</text></g>
<g id="e10c"><rect class="b" x="1747" y="4259" width="145" height="25" rx="5"/><text class="t" x="1753" y="4276">②日本的气候有什么特点?</text></g>
<g id="e11"><rect class="b" x="1642" y="4353" width="78" height="25" rx="5"/><text class="t" x="1648" y="4370">5.日本的资源</text></g>
<g id="e11a"><rect class="b" x="1744" y="4311" width="244" height="40" rx="5"/><text class="t" x="1750" y="4328">尝试描述日本的森林资源、水资源、渔业资源<tspan x="1750" dy="15">及矿产资源(提示：是丰富还是不足)</tspan></text></g>
<g id="e11b"><rect class="b" x="1744" y="4386" width="77" height="25" rx="5"/><text class="t" x="1750" y="4403">(四)合作探究</text></g>
<g id="e11b1"><rect class="b" x="1843" y="4378" width="244" height="40" rx="5"/><text class="t" x="1849" y="4395">要求：以小组形式进行合作探究;将探究结果<tspan x="1849" dy="15">写在老师发的纸上面;时间5分钟。</tspan></text></g>
<g id="e12"><rect class="b" x="1642" y="4445" width="244" height="55" rx="5"/><text class="t" x="1648" y="4462">1. 阅读课本55页图8-1-3、地图册32页日本<tspan x="1648" dy="15">在地震带中的位置，尝试分析日本为什么多火</tspan><tspan x="1648" dy="15">山、地震?</tspan></text></g>
<g id="e13"><rect class="b" x="1642" y="4527" width="244" height="70" rx="5"/><text class="t" x="1648" y="4544">2. 展示材料，日本2011年的3.11地震与中国<tspan x="1648" dy="15">2008年的5.12汶川地震相比，损失要小很多</tspan><tspan x="1648" dy="15">，为什么出现这种情况?日本的哪些抗震、防</tspan><tspan x="1648" dy="15">震措施值得我们学习?</tspan></text></g>
<g id="e14"><rect class="b" x="1642" y="4654" width="244" height="40" rx="5"/><text class="t" x="1648" y="4671">3.东京和济南都位于36°N附近，下表为两个<tspan x="1648" dy="15">城市的气象数据。</tspan></text></g>
<g id="e14a"><rect class="b" x="1909" y="4624" width="70" height="25" rx="5"/><text class="t" x="1915" y="4641">①完成表格</text></g>
<g id="e14b"><rect class="b" x="1909" y="4694" width="245" height="40" rx="5"/><text class="t" x="1915" y="4711">②对比济南的气象数据，描述东京的气候特点<tspan x="1915" dy="15">?造成此气候特点的原因是什么?</tspan></text></g>
<g id="e14b1"><rect class="b" x="2177" y="4676" width="76" height="25" rx="5"/><text class="t" x="2183" y="4693">(五)风采展示</text></g>
<g id="e14b1a"><rect class="b" x="2275" y="4676" width="235" height="25" rx="5"/><text class="t" x="2281" y="4693">将合作探究的结果以小组的形式进行展示。</text></g>
<g id="e14b2"><rect class="b" x="2177" y="4728" width="76" height="25" rx="5"/><text class="t" x="2183" y="4745">(六)达标检测</text></g>
<g id="e15"><rect class="b" x="1642" y="4779" width="138" height="25" rx="5"/><text class="t" x="1648" y="4796">1.日本的地形以( )为主。</text></g>
<g id="e15a"><rect class="b" x="1802" y="4779" width="196" height="25" rx="5"/><text class="t" x="1808" y="4796">A.山地、丘陵 B.平原 C.盆地 D.高原</text></g>
<g id="e16"><rect class="b" x="1642" y="4857" width="207" height="25" rx="5"/><text class="t" x="1648" y="4874">2.日本的自然资源中，比较丰富的是( )</text></g>
<g id="e16a"><rect class="b" x="1872" y="4831" width="156" height="25" rx="5"/><text class="t" x="1878" y="4848">A.石油和煤炭 B. 水能和森林</text></g>
<g id="e16b"><rect class="b" x="1872" y="4883" width="153" height="25" rx="5"/><text class="t" x="1878" y="4900">C.铁矿和水能 D.森林和石油</text></g>
<g id="e17"><rect class="b" x="1642" y="4934" width="152" height="25" rx="5"/><text class="t" x="1648" y="4951">3.同步学习巩固提升1—6题</text></g>
<g id="e17a"><rect class="b" x="1817" y="4934" width="76" height="25" rx="5"/><text class="t" x="1823" y="4951">(七)课堂小结</text></g>
<g id="e17b"><rect class="b" x="1916" y="4934" width="105" height="25" rx="5"/><text class="t" x="1922" y="4951">谈一谈你的收获。</text></g>

<g id="f1"><rect class="b" x="1642" y="4987" width="147" height="25" rx="5"/><text class="t" x="1648" y="5004">★ 最新七年级地理教案5篇</text></g>
<g id="f2"><rect class="b" x="1642" y="5038" width="158" height="25" rx="5"/><text class="t" x="1648" y="5055">★ 人教版七年级地理教案5篇</text></g>
<g id="f3"><rect class="b" x="1642" y="5090" width="135" height="25" rx="5"/><text class="t" x="1648" y="5107">★ 七年级上地理教案5篇</text></g>
<g id="f4"><rect class="b" x="1642" y="5141" width="174" height="25" rx="5"/><text class="t" x="1648" y="5158">★ 2021七年级地理复习教案5篇</text></g>
<g id="f5"><rect class="b" x="1642" y="5193" width="182" height="25" rx="5"/><text class="t" x="1648" y="5210">★ 七年级地理教学设计怎么做5篇</text></g>
<g id="f6"><rect class="b" x="1642" y="5245" width="147" height="25" rx="5"/><text class="t" x="1648" y="5262">★ 七年级地理下册教案5篇</text></g>
<g id="f7"><rect class="b" x="1642" y="5297" width="164" height="25" rx="5"/><text class="t" x="1648" y="5314">★ 七年级地理复习课教案模板</text></g>
<g id="f8"><rect class="b" x="1642" y="5348" width="206" height="25" rx="5"/><text class="t" x="1648" y="5365">★ 七年级下册地理教案人教版【5篇】</text></g>
<g id="f9"><rect class="b" x="1642" y="5400" width="142" height="25" rx="5"/><text class="t" x="1648" y="5417">★ 7年级地理下册教案5篇</text></g>
<g id="f10"><rect class="b" x="1642" y="5452" width="175" height="25" rx="5"/><text class="t" x="1648" y="5469">★ 七年级地理集体备课教案范文</text></g>
</g>
</svg>
